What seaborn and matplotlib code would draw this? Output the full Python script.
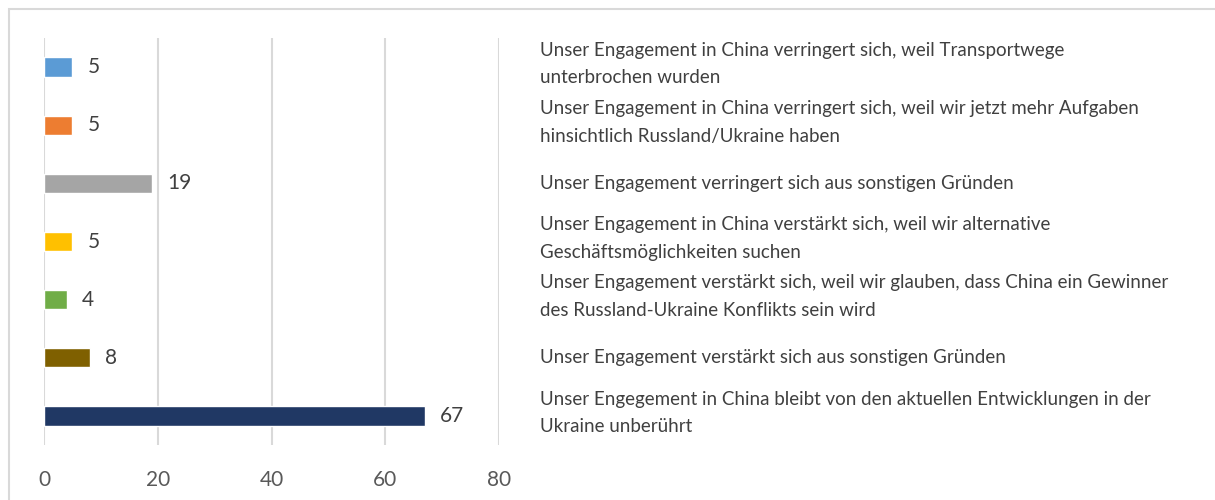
import matplotlib
matplotlib.use("Agg")
import matplotlib.pyplot as plt
import matplotlib.transforms as mtransforms
from matplotlib.patches import Rectangle
import seaborn as sns

# data
answers = [
    "Unser Engagement in China verringert sich, weil Transportwege\nunterbrochen wurden",
    "Unser Engagement in China verringert sich, weil wir jetzt mehr Aufgaben\nhinsichtlich Russland/Ukraine haben",
    "Unser Engagement verringert sich aus sonstigen Gründen",
    "Unser Engagement in China verstärkt sich, weil wir alternative\nGeschäftsmöglichkeiten suchen",
    "Unser Engagement verstärkt sich, weil wir glauben, dass China ein Gewinner\ndes Russland-Ukraine Konflikts sein wird",
    "Unser Engagement verstärkt sich aus sonstigen Gründen",
    "Unser Engegement in China bleibt von den aktuellen Entwicklungen in der\nUkraine unberührt",
]
shares = [5, 5, 19, 5, 4, 8, 67]
bar_colors = ["#5B9BD5", "#ED7D31", "#A5A5A5", "#FFC000", "#70AD47", "#7F6000", "#203864"]
x_ticks = [0, 20, 40, 60, 80]

sns.set_style("white")
plt.rcParams["font.family"] = ["Lato", "DejaVu Sans"]

fig = plt.figure(figsize=(12.15, 5.0), dpi=100)
ax = fig.add_axes([44 / 1215, 1 - 445 / 500, 455 / 1215, 407 / 500])

sns.barplot(x=shares, y=answers, hue=answers, palette=bar_colors, orient="h",
            width=0.33, legend=False, saturation=1, ax=ax)

ax.set_xlim(0, 80)
ax.set_ylim(6.5, -0.5)
ax.set_xticks(x_ticks)
ax.set_yticks([])
ax.set_xlabel("")
ax.set_ylabel("")
ax.grid(axis="x", color="#D9D9D9", linewidth=1.5)
ax.set_axisbelow(True)
for s in ax.spines.values():
    s.set_visible(False)
ax.tick_params(axis="x", length=0, pad=18, labelsize=15, labelcolor="#595959")

for c in ax.containers:
    ax.bar_label(c, padding=11, fontsize=15, color="#404040")

# category texts on the right
trans = mtransforms.blended_transform_factory(fig.transFigure, ax.transData)
for i, txt in enumerate(answers):
    y_off = -0.05 if "\n" in txt else 0
    ax.text(540 / 1215, i + y_off, txt, transform=trans, ha="left", va="center",
            fontsize=13.5, color="#404040", linespacing=1.75)

# light outer border
fig.patches.append(Rectangle((9 / 1215, -0.02), 1.02, 1 - 9 / 500 + 0.02,
                             transform=fig.transFigure, fill=False,
                             edgecolor="#D9D9D9", linewidth=1.5))

fig.savefig("out.png", dpi=100)
